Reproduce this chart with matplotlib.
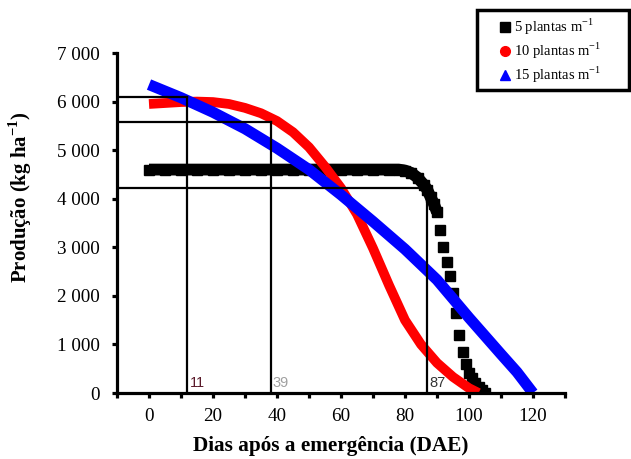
import numpy as np
import matplotlib
matplotlib.use('Agg')
import matplotlib.pyplot as plt
from matplotlib.ticker import MultipleLocator
from matplotlib.lines import Line2D
from matplotlib.patches import Rectangle

# ------------------------------------------------------
# Fonts
# ------------------------------------------------------
plt.rcParams['font.family'] = 'Liberation Serif'
plt.rcParams['mathtext.fontset'] = 'custom'
plt.rcParams['mathtext.rm'] = 'Liberation Serif'
plt.rcParams['mathtext.bf'] = 'Liberation Serif:bold'

# ------------------------------------------------------
# DATA
# ------------------------------------------------------

# 5 plantas m-1 (black squares)
days5 = [0, 5, 10, 15, 20, 25, 30, 35, 40, 45, 50, 55, 60, 65, 70, 75, 78,
         80, 82, 84, 86, 87, 88, 89, 90, 91, 92, 93, 94, 95, 96, 97, 98, 99,
         100, 101, 102, 103, 104, 105]
prod5 = [4600, 4600, 4600, 4600, 4600, 4600, 4600, 4600, 4600, 4600, 4600,
         4600, 4600, 4600, 4600, 4600, 4600, 4580, 4530, 4430, 4280, 4180,
         4030, 3900, 3720, 3350, 3000, 2700, 2400, 2050, 1650, 1200, 850,
         600, 420, 300, 200, 120, 60, 0]

# 10 plantas m-1 (red)
days10 = [0, 5, 10, 15, 20, 25, 30, 35, 40, 45, 50, 55, 60, 65, 70, 75,
          80, 85, 90, 95, 100, 103]
prod10 = [5950, 5970, 5990, 6000, 5990, 5950, 5870, 5760, 5600, 5370, 5060,
          4660, 4220, 3680, 2980, 2220, 1500, 1000, 620, 330, 100, 0]

# 15 plantas m-1 (blue)
days15 = [0, 10, 20, 30, 40, 50, 60, 70, 80, 90, 100, 110, 115, 120]
prod15 = [6350, 6080, 5780, 5440, 5040, 4600, 4080, 3530, 2960, 2330, 1550,
          800, 430, 0]

# Reference lines (day, production) and their labels
cut_days = [12, 38, 87]
cut_prod = [6090, 5580, 4220]
cut_labels = ['11', '39', '87']
cut_colors = ['#5a1a2a', '#a0a0a0', '#333333']

yticks = [0, 1000, 2000, 3000, 4000, 5000, 6000, 7000]
ytick_labels = ['0', '1 000', '2 000', '3 000', '4 000', '5 000', '6 000', '7 000']
xticks = [0, 20, 40, 60, 80, 100, 120]

legend_labels = ['5 plantas m$^{\\mathregular{-1}}$',
                 '10 plantas m$^{\\mathregular{-1}}$',
                 '15 plantas m$^{\\mathregular{-1}}$']
legend_colors = ['k', '#ff0000', '#0000ff']
legend_markers = ['s', 'o', '^']

W, H = 631, 459

# ------------------------------------------------------
# PLOT
# ------------------------------------------------------
fig = plt.figure(figsize=(W / 100, H / 100), dpi=100)
ax1 = fig.add_axes([117 / W, 66 / H, 448 / W, 340 / H])

# Black curve: solid bar on the flat part then separate squares
n_flat = days5.index(90) + 1
ax1.plot(days5[:n_flat], prod5[:n_flat], '-', color='k', lw=8.5,
         solid_capstyle='butt', solid_joinstyle='round')
ax1.plot(days5, prod5, 's', color='k', markersize=6.5)

# Red and blue curves
ax1.plot(days10, prod10, '-', color='#ff0000', lw=7, solid_capstyle='butt')
ax1.plot(days15, prod15, '-', color='#0000ff', lw=8, solid_capstyle='butt')

# Reference lines
for d, p, lab, c in zip(cut_days, cut_prod, cut_labels, cut_colors):
    ax1.plot([-10, d], [p, p], '-', color='k', lw=1.6)
    ax1.plot([d, d], [p, 0], '-', color='k', lw=1.6)
    ax1.text(d + 0.7, 60, lab, color=c, fontsize=10.5,
             family='Liberation Sans', ha='left', va='bottom')

# Axis
ax1.set_xlim(-10, 130)
ax1.set_ylim(0, 7000)
ax1.set_xticks(xticks)
ax1.xaxis.set_minor_locator(MultipleLocator(10))
ax1.set_yticks(yticks)
ax1.set_yticklabels(ytick_labels)

for s in ['top', 'right']:
    ax1.spines[s].set_visible(False)
for s in ['left', 'bottom']:
    ax1.spines[s].set_linewidth(2.3)

ax1.tick_params(which='both', direction='out', length=3.5, width=2.3,
                labelsize=13.8, colors='k')
ax1.tick_params(axis='x', pad=7)
ax1.tick_params(axis='y', pad=9)

# Axis titles
fig.text(331 / W, 1 - 446 / H, 'Dias após a emergência (DAE)', fontsize=15.3,
         fontweight='bold', ha='center', va='center')
fig.text(20 / W, 1 - 197 / H, 'Produção (kg ha$^{\\mathregular{-1}}$)',
         fontsize=15, fontweight='bold', rotation=90, ha='center', va='center')

# Legend box, drawn by hand
fig.add_artist(Rectangle((477 / W, 1 - 90 / H), 152 / W, 80 / H,
                         transform=fig.transFigure, fill=False,
                         edgecolor='k', lw=2.5))
row_y = [27, 51, 75]
for yy, lab, c, m in zip(row_y, legend_labels, legend_colors, legend_markers):
    fig.add_artist(Line2D([505 / W], [1 - yy / H], marker=m, color=c, ls='none',
                          markersize=7, transform=fig.transFigure))
    fig.text(514 / W, 1 - yy / H, lab, fontsize=10.5, ha='left', va='center')

fig.savefig('out.png', dpi=100)
